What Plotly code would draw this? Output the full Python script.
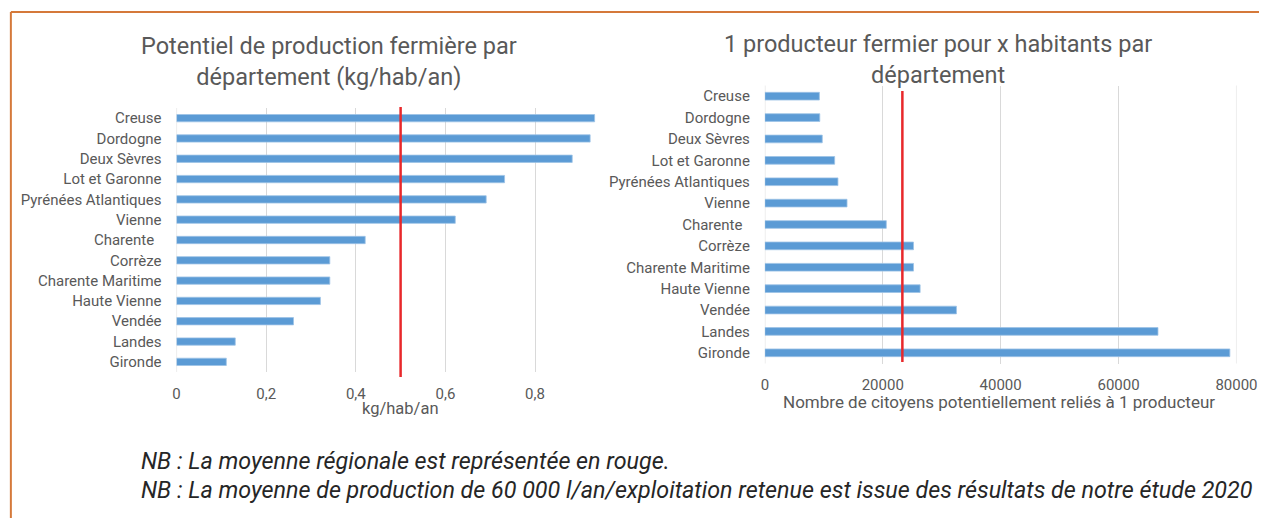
import plotly.graph_objects as go

# ---- data ----
departements = ["Creuse", "Dordogne", "Deux Sèvres", "Lot et Garonne", "Pyrénées Atlantiques",
                "Vienne", "Charente  ", "Corrèze", "Charente Maritime", "Haute Vienne",
                "Vendée", "Landes", "Gironde"]
kg_hab_an = [0.933, 0.923, 0.883, 0.732, 0.691, 0.622, 0.421, 0.342, 0.342, 0.321, 0.261, 0.131, 0.111]
moyenne_kg = 0.5

habitants_par_producteur = [9250, 9320, 9740, 11840, 12400, 13940, 20600, 25220, 25220, 26340,
                            32500, 66690, 78880]
moyenne_hab = 23330

left_ticks = [0, 0.2, 0.4, 0.6, 0.8]
left_ticktext = ["0", "0,2", "0,4", "0,6", "0,8"]
right_ticks = [0, 20000, 40000, 60000, 80000]
right_ticktext = ["0", "20000", "40000", "60000", "80000"]

title_left = "Potentiel de production fermière par<br>département (kg/hab/an)"
title_right = "1 producteur fermier pour x habitants par<br>département"
xtitle_left = "kg/hab/an"
xtitle_right = "Nombre de citoyens potentiellement reliés à 1 producteur"
notes = ["NB : La moyenne régionale est représentée en rouge.",
         "NB : La moyenne de production de 60 000 l/an/exploitation retenue est issue des résultats de notre étude 2020"]

# ---- layout helpers ----
W, H = 1280, 518
FONT = "Roboto, 'Liberation Sans Narrow', 'DejaVu Sans Condensed', sans-serif"
GREY = "#595959"
BLUE = "#5B9BD5"
RED = "#E8282B"
GRID = "#D9D9D9"

def px(x):
    return x / W

def py(y):
    return 1 - y / H

cat_text = [c.replace(" ", "\u00a0") for c in departements]

fig = go.Figure()
fig.add_trace(go.Bar(y=departements, x=kg_hab_an, orientation="h",
                     marker=dict(color=BLUE, line=dict(color="#9DC3E6", width=0.8)),
                     xaxis="x", yaxis="y", showlegend=False))
fig.add_trace(go.Bar(y=departements, x=habitants_par_producteur, orientation="h",
                     marker=dict(color=BLUE, line=dict(color="#9DC3E6", width=0.8)),
                     xaxis="x2", yaxis="y2", showlegend=False))

axis_font = dict(family=FONT, size=15, color=GREY)

fig.update_layout(
    width=W, height=H,
    margin=dict(l=0, r=0, t=0, b=0),
    paper_bgcolor="white", plot_bgcolor="white",
    bargap=0.64,
    font=dict(family=FONT, color=GREY),
    xaxis=dict(domain=[px(176), px(633)], range=[0, 1], tickvals=left_ticks, ticktext=left_ticktext,
               showgrid=True, gridcolor=GRID, gridwidth=1, zeroline=False, showline=False,
               tickfont=axis_font, ticks="", ticklabelstandoff=11, anchor="y", fixedrange=True),
    yaxis=dict(domain=[py(372), py(108)], autorange="reversed", tickvals=departements, ticktext=cat_text,
               showgrid=False, zeroline=False, showline=False, tickfont=axis_font, ticks="",
               ticklabelstandoff=14, anchor="x"),
    xaxis2=dict(domain=[px(776), px(1257)], range=[0, 80000], tickvals=right_ticks, ticktext=right_ticktext,
                showgrid=True, gridcolor=GRID, gridwidth=1, zeroline=False, showline=False,
                tickfont=axis_font, ticks="", ticklabelstandoff=10, anchor="y2"),
    yaxis2=dict(domain=[py(363.5), py(85.5)], autorange="reversed", tickvals=departements, ticktext=cat_text,
                showgrid=False, zeroline=False, showline=False, tickfont=axis_font, ticks="",
                ticklabelstandoff=14, anchor="x2"),
)

shapes = [
    # orange frame
    dict(type="line", xref="paper", yref="paper", x0=px(7), x1=px(7), y0=py(12), y1=0,
         line=dict(color="#D5793A", width=2)),
    dict(type="line", xref="paper", yref="paper", x0=px(7), x1=1, y0=py(12), y1=py(12),
         line=dict(color="#D5793A", width=2)),
    # gridlines at the axis ends
    dict(type="line", xref="x", yref="paper", x0=0, x1=0, y0=py(372), y1=py(108),
         line=dict(color=GRID, width=1), layer="below"),
    dict(type="line", xref="x2", yref="paper", x0=0, x1=0, y0=py(363.5), y1=py(85.5),
         line=dict(color=GRID, width=1), layer="below"),
    dict(type="line", xref="x2", yref="paper", x0=80000, x1=80000, y0=py(363.5), y1=py(85.5),
         line=dict(color=GRID, width=1), layer="below"),
    # regional averages
    dict(type="line", xref="x", yref="paper", x0=moyenne_kg, x1=moyenne_kg, y0=py(377), y1=py(107),
         line=dict(color=RED, width=2.5)),
    dict(type="line", xref="x2", yref="paper", x0=moyenne_hab, x1=moyenne_hab, y0=py(362), y1=py(91),
         line=dict(color=RED, width=2.5)),
]
fig.update_layout(shapes=shapes)

ann = [
    dict(text=title_left, x=px(331), y=py(62), font=dict(size=23.5, color=GREY, family=FONT)),
    dict(text=title_right, x=px(953), y=py(60), font=dict(size=23.5, color=GREY, family=FONT)),
    dict(text=xtitle_left, x=px(404), y=py(408), font=dict(size=16.5, color=GREY, family=FONT)),
    dict(text=xtitle_right, x=px(1015), y=py(401.5), font=dict(size=17, color=GREY, family=FONT)),
]
annotations = []
for a in ann:
    annotations.append(dict(xref="paper", yref="paper", xanchor="center", yanchor="middle",
                            showarrow=False, align="center", **a))
for i, t in enumerate(notes):
    annotations.append(dict(xref="paper", yref="paper", x=px(138), y=py(461 + 29 * i),
                            xanchor="left", yanchor="middle", showarrow=False, text="<i>" + t + "</i>",
                            font=dict(size=23.3, color="#262626", family=FONT)))
fig.update_layout(annotations=annotations)

fig.write_html("out.html", config={"displayModeBar": False},
               post_script="document.body.style.margin='0';document.body.style.overflow='hidden';")
